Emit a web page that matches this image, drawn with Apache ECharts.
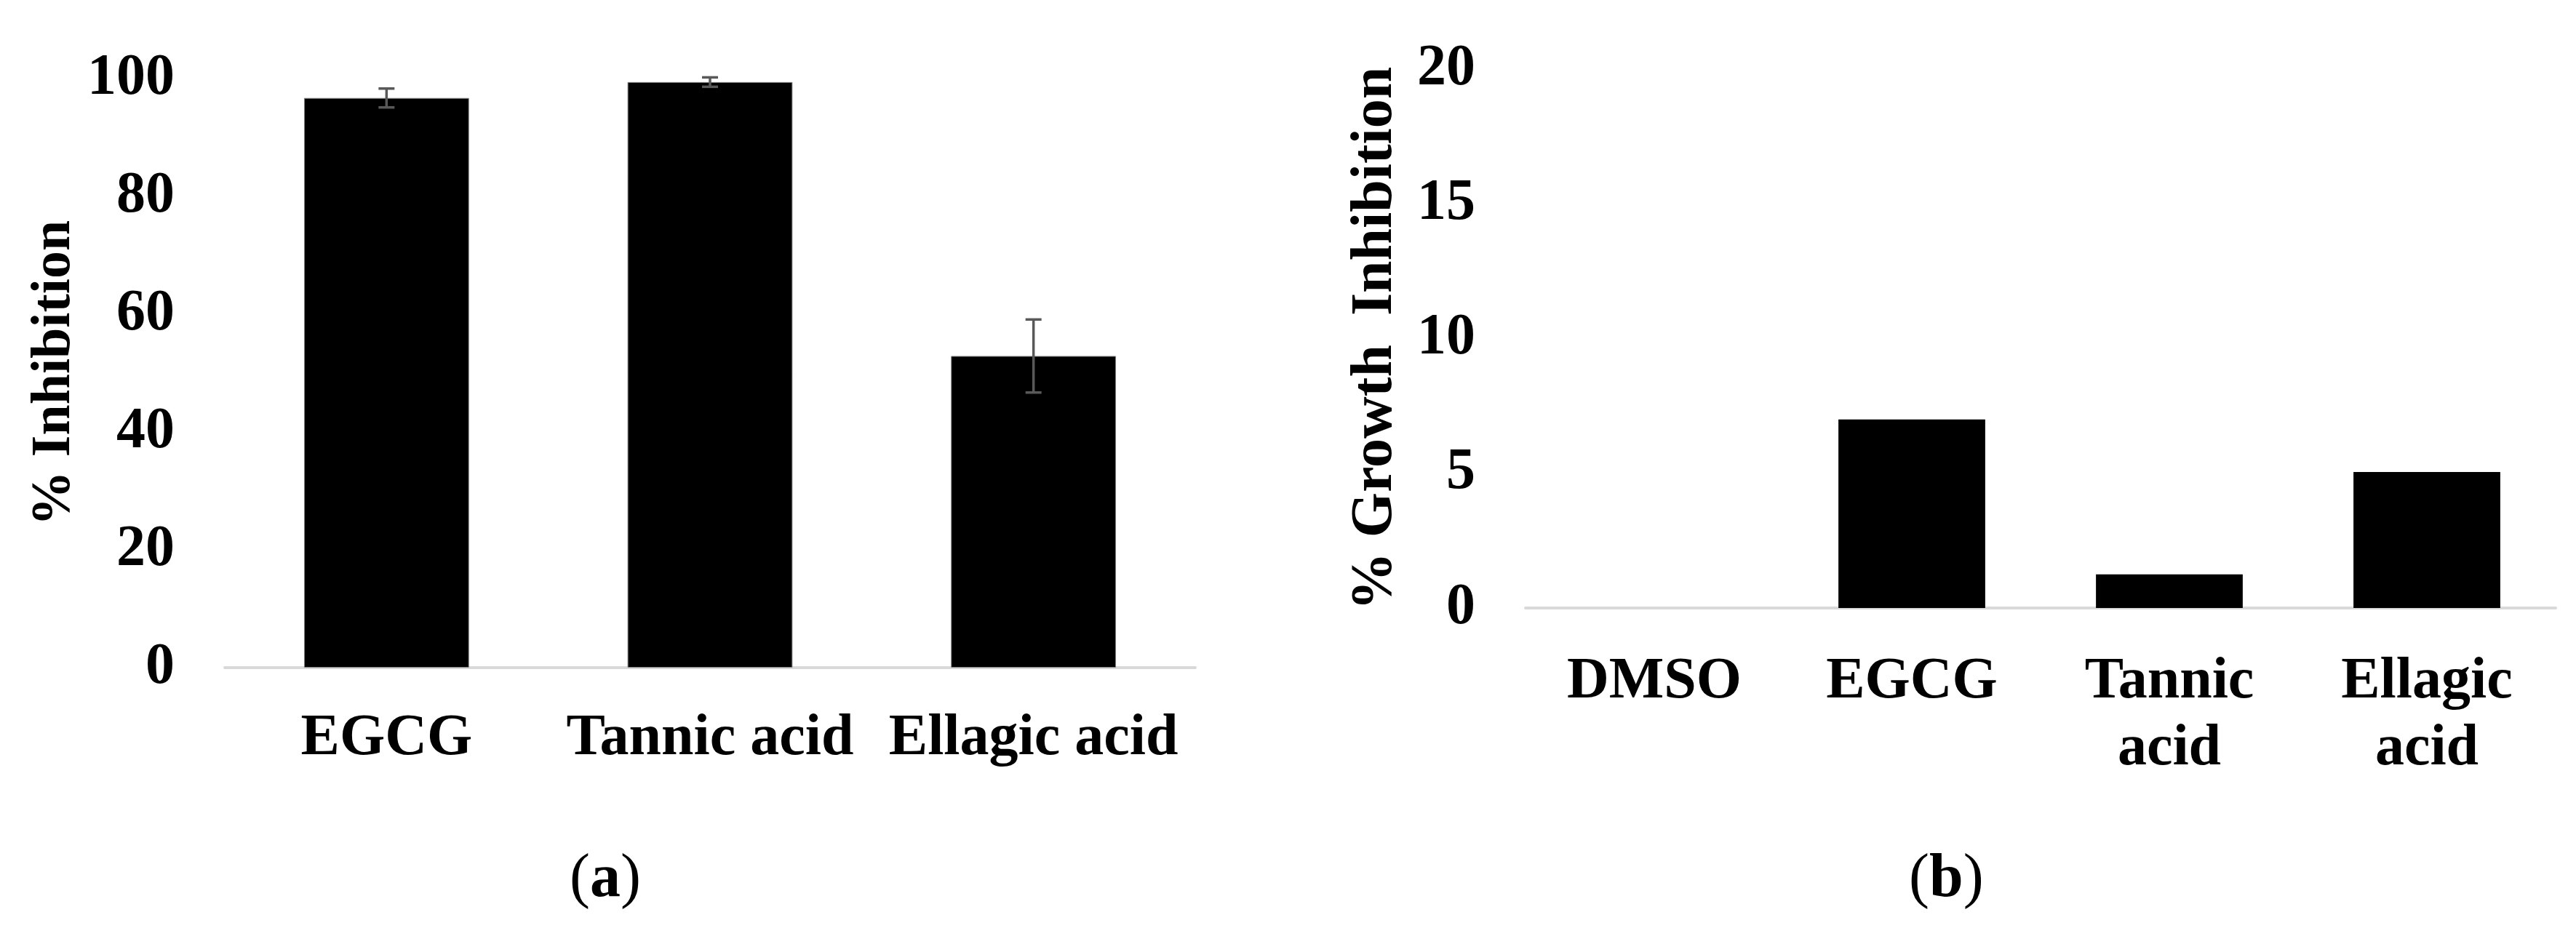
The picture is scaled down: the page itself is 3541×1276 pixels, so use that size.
<!DOCTYPE html>
<html>
<head>
<meta charset="utf-8">
<script src="https://cdn.jsdelivr.net/npm/echarts@6/dist/echarts.min.js"></script>
<style>
  html, body { margin: 0; padding: 0; background: #fff; }
  #chart { width: 3541px; height: 1276px; }
</style>
</head>
<body>
<div id="chart"></div>
<script>
// panel (a)
const catsA = ['EGCG', 'Tannic acid', 'Ellagic acid']
const valuesA = [96.7, 99.4, 52.9]
const errorsA = [1.6, 0.8, 6.2]
const ticksA = { min: 0, max: 100, interval: 20 }

// panel (b)
const catsB = ['DMSO', 'EGCG', 'Tannic\nacid', 'Ellagic\nacid']
const valuesB = [0, 7.0, 1.25, 5.05]
const ticksB = { min: 0, max: 20, interval: 5 }

const font = "'Liberation Serif', 'Times New Roman', serif"

const chart = echarts.init(document.getElementById('chart'))

function errorBar (params, api) {
  const x = api.value(0)
  const y = api.value(1)
  const e = api.value(2)
  const top = api.coord([x, y + e])
  const bot = api.coord([x, y - e])
  const half = 11
  const style = { stroke: '#595959', lineWidth: 3.5 }
  return {
    type: 'group',
    children: [
      { type: 'line', shape: { x1: top[0], y1: top[1], x2: bot[0], y2: bot[1] }, style: style },
      { type: 'line', shape: { x1: top[0] - half, y1: top[1], x2: top[0] + half, y2: top[1] }, style: style },
      { type: 'line', shape: { x1: bot[0] - half, y1: bot[1], x2: bot[0] + half, y2: bot[1] }, style: style }
    ]
  }
}

function xAxisOf (idx, cats, margin, lineHeight) {
  return {
    type: 'category',
    gridIndex: idx,
    data: cats,
    axisLine: { lineStyle: { color: '#d9d9d9', width: 4 } },
    axisTick: { show: false },
    axisLabel: {
      interval: 0,
      margin: margin,
      color: '#000',
      fontFamily: font,
      fontWeight: 'bold',
      fontSize: 80,
      lineHeight: lineHeight
    }
  }
}

function yAxisOf (idx, ticks, name, nameGap, nameSize) {
  return {
    type: 'value',
    gridIndex: idx,
    min: ticks.min,
    max: ticks.max,
    interval: ticks.interval,
    name: name,
    nameLocation: 'middle',
    nameRotate: 90,
    nameGap: nameGap,
    nameTextStyle: {
      color: '#000',
      fontFamily: font,
      fontWeight: 'bold',
      fontSize: nameSize
    },
    axisLine: { show: false },
    axisTick: { show: false },
    splitLine: { show: false },
    axisLabel: {
      margin: 69,
      color: '#000',
      fontFamily: font,
      fontWeight: 'bold',
      fontSize: 80
    }
  }
}

function caption (letter, cx) {
  return {
    type: 'text',
    left: cx - 46,
    top: 1168,
    style: {
      text: '(' + '{b|' + letter + '})',
      fontFamily: font,
      fontSize: 84,
      fill: '#000',
      rich: { b: { fontFamily: font, fontSize: 84, fontWeight: 'bold' } }
    }
  }
}

chart.setOption({
  animation: false,
  backgroundColor: '#fff',
  grid: [
    { left: 309, right: 1898, top: 108, bottom: 358 },
    { left: 2097, right: 28, top: 95, bottom: 440 }
  ],
  xAxis: [
    xAxisOf(0, catsA, 58, 80),
    xAxisOf(1, catsB, 56, 92)
  ],
  yAxis: [
    yAxisOf(0, ticksA, '% Inhibition', 196, 76),
    yAxisOf(1, ticksB, '% Growth  Inhibition', 166, 80)
  ],
  graphic: [
    caption('a', 829),
    caption('b', 2670)
  ],
  series: [
    {
      type: 'bar',
      xAxisIndex: 0,
      yAxisIndex: 0,
      barWidth: '51%',
      itemStyle: { color: '#000', borderColor: '#7f7f7f', borderWidth: 1 },
      data: valuesA
    },
    {
      type: 'custom',
      xAxisIndex: 0,
      yAxisIndex: 0,
      z: 10,
      renderItem: errorBar,
      data: valuesA.map((v, i) => [i, v, errorsA[i]])
    },
    {
      type: 'bar',
      xAxisIndex: 1,
      yAxisIndex: 1,
      barWidth: '57%',
      itemStyle: { color: '#000' },
      data: valuesB
    }
  ]
})
</script>
</body>
</html>
